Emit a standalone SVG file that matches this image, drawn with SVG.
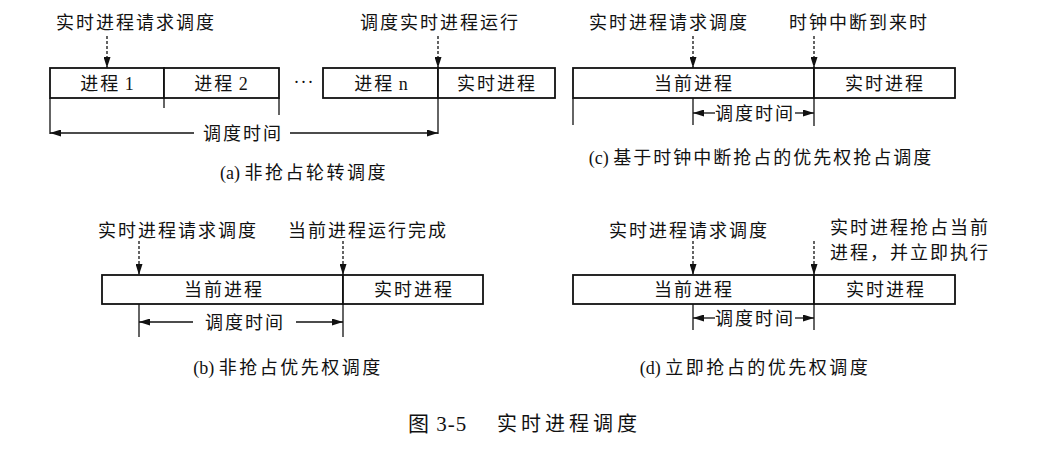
<svg xmlns="http://www.w3.org/2000/svg" width="1047" height="468" viewBox="0 0 1047 468">
<defs>
<marker id="ah" markerUnits="userSpaceOnUse" markerWidth="12" markerHeight="7" refX="11" refY="3.5" orient="auto">
<path d="M0,0 L11,3.5 L0,7 z" fill="#111"/>
</marker>
</defs>
<style>
text{font-family:"Liberation Serif","Noto Sans CJK SC",serif;font-size:18px;fill:#111;letter-spacing:2px}
.m{text-anchor:middle}
.l{letter-spacing:0}
.box{fill:#fff;stroke:#111;stroke-width:1.8}
.ln{stroke:#111;stroke-width:1.3;fill:none}
.da{stroke:#111;stroke-width:1.3;fill:none;stroke-dasharray:3 2;marker-end:url(#ah)}
.ar{stroke:#111;stroke-width:1.3;fill:none;marker-end:url(#ah)}
.cap{font-size:18px;letter-spacing:2.5px}
</style>
<rect width="1047" height="468" fill="#fff"/>

<!-- Panel (a) -->
<g id="a-boxes">
<g id="a-p1"><rect class="box" x="50" y="68" width="114" height="30"/><text class="m" x="107" y="90">进程<tspan class="l"> 1</tspan></text></g>
<g id="a-p2"><rect class="box" x="164" y="68" width="115" height="30"/><text class="m" x="221" y="90">进程<tspan class="l"> 2</tspan></text></g>
<g id="a-dots"><text class="m" x="304" y="88" style="letter-spacing:1px">···</text></g>
<g id="a-pn"><rect class="box" x="323" y="68" width="115" height="30"/><text class="m" x="381" y="90">进程<tspan class="l"> n</tspan></text></g>
<g id="a-rt"><rect class="box" x="438" y="68" width="117" height="30"/><text class="m" x="497" y="90">实时进程</text></g>
</g>
<g id="a-labels">
<text class="m" x="136" y="29">实时进程请求调度</text>
<text class="m" x="440" y="29">调度实时进程运行</text>
<text class="m" x="243" y="140">调度时间</text>
<text class="m cap" x="304" y="179"><tspan class="l">(a) </tspan>非抢占轮转调度</text>
</g>

<!-- Panel (c) -->
<g id="c-boxes">
<g id="c-cur"><rect class="box" x="573" y="68" width="241" height="30"/><text class="m" x="694" y="90">当前进程</text></g>
<g id="c-rt"><rect class="box" x="814" y="68" width="141" height="30"/><text class="m" x="885" y="90">实时进程</text></g>
</g>
<g id="c-labels">
<text class="m" x="669" y="29">实时进程请求调度</text>
<text class="m" x="859" y="29">时钟中断到来时</text>
<text class="m" x="755" y="120">调度时间</text>
<text class="m cap" x="761" y="164" style="letter-spacing:2px"><tspan class="l">(c) </tspan>基于时钟中断抢占的优先权抢占调度</text>
</g>

<!-- Panel (b) -->
<g id="b-boxes">
<g id="b-cur"><rect class="box" x="102" y="275" width="241" height="29"/><text class="m" x="224" y="296">当前进程</text></g>
<g id="b-rt"><rect class="box" x="343" y="275" width="140" height="29"/><text class="m" x="414" y="296">实时进程</text></g>
</g>
<g id="b-labels">
<text class="m" x="178" y="237">实时进程请求调度</text>
<text class="m" x="368" y="237">当前进程运行完成</text>
<text class="m" x="245" y="329">调度时间</text>
<text class="m cap" x="288" y="374"><tspan class="l">(b) </tspan>非抢占优先权调度</text>
</g>

<!-- Panel (d) -->
<g id="d-boxes">
<g id="d-cur"><rect class="box" x="573" y="275" width="241" height="29"/><text class="m" x="694" y="296">当前进程</text></g>
<g id="d-rt"><rect class="box" x="814" y="275" width="141" height="29"/><text class="m" x="886" y="296">实时进程</text></g>
</g>
<g id="d-labels">
<text class="m" x="689" y="237">实时进程请求调度</text>
<text x="830" y="234">实时进程抢占当前</text>
<text x="830" y="259">进程，并立即执行</text>
<text class="m" x="755" y="325">调度时间</text>
<text class="m cap" x="755" y="374"><tspan class="l">(d) </tspan>立即抢占的优先权调度</text>
</g>

<!-- Figure caption -->
<g id="caption">
<text x="408" y="431" style="font-size:21px;letter-spacing:1px">图 3-5</text>
<text x="641" y="431" style="font-size:20px;letter-spacing:4px;text-anchor:end">实时进程调度</text>
</g>

<!-- Connectors -->
<g id="connectors">
<!-- (a) -->
<line class="da" x1="107" y1="36" x2="107" y2="68"/>
<line class="da" x1="438" y1="36" x2="438" y2="68"/>
<line class="ln" x1="50" y1="98" x2="50" y2="134"/>
<line class="ln" x1="164" y1="98" x2="164" y2="108"/>
<line class="ln" x1="279" y1="98" x2="279" y2="115"/>
<line class="ln" x1="438" y1="98" x2="438" y2="134"/>
<line class="ar" x1="194" y1="133" x2="50" y2="133"/>
<line class="ar" x1="290" y1="133" x2="438" y2="133"/>
<!-- (c) -->
<line class="da" x1="693" y1="36" x2="693" y2="68"/>
<line class="da" x1="814" y1="36" x2="814" y2="68"/>
<line class="ln" x1="573" y1="98" x2="573" y2="125"/>
<line class="ln" x1="693" y1="98" x2="693" y2="125"/>
<line class="ln" x1="814" y1="98" x2="814" y2="126"/>
<line class="ar" x1="715" y1="113" x2="693" y2="113"/>
<line class="ar" x1="795" y1="113" x2="814" y2="113"/>
<!-- (b) -->
<line class="da" x1="139" y1="241" x2="139" y2="275"/>
<line class="da" x1="343" y1="241" x2="343" y2="275"/>
<line class="ln" x1="139" y1="304" x2="139" y2="337"/>
<line class="ln" x1="343" y1="304" x2="343" y2="337"/>
<line class="ar" x1="193" y1="322" x2="139" y2="322"/>
<line class="ar" x1="296" y1="322" x2="343" y2="322"/>
<!-- (d) -->
<line class="da" x1="693" y1="241" x2="693" y2="275"/>
<line class="da" x1="814" y1="241" x2="814" y2="275"/>
<line class="ln" x1="693" y1="304" x2="693" y2="330"/>
<line class="ln" x1="814" y1="304" x2="814" y2="330"/>
<line class="ar" x1="715" y1="318" x2="693" y2="318"/>
<line class="ar" x1="795" y1="318" x2="814" y2="318"/>
</g>
</svg>
